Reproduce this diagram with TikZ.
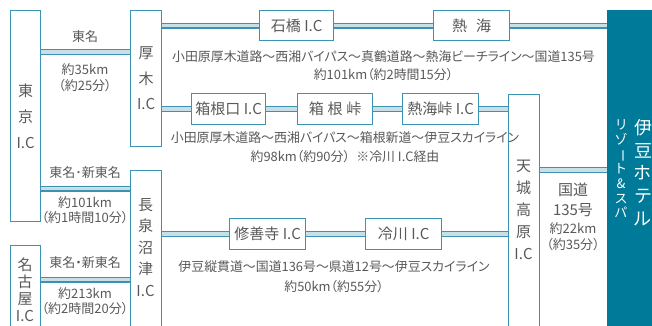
\documentclass[tikz,border=0pt]{standalone}
\usepackage{fontspec}
\setmainfont{Noto Sans CJK JP}[RawFeature=+palt]
\definecolor{boxline}{HTML}{3A93B1}
\definecolor{roadfill}{HTML}{C9DEE7}
\definecolor{hotelblue}{HTML}{007A99}
\definecolor{txt}{HTML}{595959}
\pgfdeclarelayer{background}
\pgfsetlayers{background,main}
\tikzset{
  icbox/.style={draw=boxline, line width=1.3pt, fill=white, inner sep=0pt, anchor=north west, text=txt, font=\fontsize{15}{18}\selectfont},
  vlab/.style={text=txt, align=center, inner sep=0pt},
  note/.style={text=txt, font=\fontsize{12.9}{15}\selectfont, inner sep=0pt},
  side/.style={text=txt, font=\fontsize{13}{16}\selectfont, inner sep=0pt},
  roadout/.style={draw=boxline, line width=6pt},
  roadin/.style={draw=roadfill, line width=3.6pt},
}
\newcommand{\road}[2]{%
  \begin{pgfonlayer}{background}
  \draw[roadout] #1 -- #2;
  \draw[roadin] #1 -- #2;
  \end{pgfonlayer}}
\begin{document}
\begin{tikzpicture}[x=1pt,y=-1pt]
\useasboundingbox (0,0) rectangle (652,325);
\begin{pgfonlayer}{background}
\fill[white] (0,0) rectangle (652,325);
\end{pgfonlayer}

% IC boxes
\node[icbox, minimum width=30pt, minimum height=211pt] (tokyo) at (10,10) {};
\node[icbox, minimum width=31pt, minimum height=136pt] (atsugi) at (130,10) {};
\node[icbox, minimum width=31pt, minimum height=170pt] (nagaizumi) at (130,170) {};
\node[icbox, minimum width=30pt, minimum height=95pt] (nagoya) at (10,245) {};
\node[icbox, minimum width=74pt, minimum height=30pt] (ishibashi) at (259,10) {石橋 I.C};
\node[icbox, minimum width=76pt, minimum height=30pt] (atami) at (433,10) {熱\hspace{0.6em}海};
\node[icbox, minimum width=74pt, minimum height=31pt] (hakoneguchi) at (191,93) {箱根口 I.C};
\node[icbox, minimum width=75pt, minimum height=31pt] (hakonetoge) at (297,93) {箱\hspace{0.25em}根\hspace{0.25em}峠};
\node[icbox, minimum width=76pt, minimum height=31pt] (atamitoge) at (402,93) {熱海峠 I.C};
\node[icbox, minimum width=31pt, minimum height=246pt] (amagi) at (508,94) {};
\node[icbox, minimum width=76pt, minimum height=31pt] (shuzenji) at (229,218) {修善寺 I.C};
\node[icbox, minimum width=76pt, minimum height=31pt] (hiekawa) at (365,218) {冷川 I.C};
\node[fill=hotelblue, inner sep=0pt, anchor=north west, minimum width=45pt, minimum height=320pt] (hotel) at (607,10) {};

% road levels
\coordinate (yA) at (0,52);
\coordinate (yB) at (0,188.5);
\coordinate (yC) at (0,279.5);
\coordinate (yD) at (0,170);

% roads
\road{(tokyo.east |- yA)}{(atsugi.west |- yA)}
\road{(tokyo.east |- yB)}{(nagaizumi.west |- yB)}
\road{(nagoya.east |- yC)}{(nagaizumi.west |- yC)}
\road{(atsugi.east |- ishibashi.west)}{(ishibashi.west)}
\road{(ishibashi.east)}{(atami.west)}
\road{(atami.east)}{(hotel.west |- atami.east)}
\road{(atsugi.east |- hakoneguchi.west)}{(hakoneguchi.west)}
\road{(hakoneguchi.east)}{(hakonetoge.west)}
\road{(hakonetoge.east)}{(atamitoge.west)}
\road{(atamitoge.east)}{(amagi.west |- atamitoge.east)}
\road{(nagaizumi.east |- shuzenji.west)}{(shuzenji.west)}
\road{(shuzenji.east)}{(hiekawa.west)}
\road{(hiekawa.east)}{(amagi.west |- hiekawa.east)}
\road{(amagi.east |- yD)}{(hotel.west |- yD)}

% vertical IC names
\node[vlab, font=\fontsize{15}{26}\selectfont] (tokyoT) at (tokyo.center) {東\\京\\I.C};
\node[vlab, font=\fontsize{15}{25.5}\selectfont] (atsugiT) at (atsugi.center) {厚\\木\\I.C};
\node[vlab, font=\fontsize{15}{21.5}\selectfont] (nagaizumiT) at (145.5,247.5) {長\\泉\\沼\\津\\I.C};
\node[vlab, font=\fontsize{15}{17}\selectfont] (nagoyaT) at (25,289.5) {名\\古\\屋\\I.C};
\node[vlab, font=\fontsize{15}{22}\selectfont] (amagiT) at (523.5,210) {天\\城\\高\\原\\I.C};

% hotel
\node[vlab, text=white, font=\fontsize{18}{22.8}\selectfont] (hotelA) at (643,172.5) {伊\\豆\\ホ\\テ\\ル};
\node[vlab, text=white, font=\fontsize{13}{14.7}\selectfont] (hotelB) at (621,169) {リ\\ゾ\\\rotatebox[origin=c]{-90}{ー}\\ト\\\&\\ス\\パ};

% side labels
\node[side] (l1a) at (85,37) {東名};
\node[side] (l1b) at (85,70) {約35km};
\node[side] (l1c) at (85,86) {（約25分）};
\node[side] (l2a) at (85,173) {東名･新東名};
\node[side] (l2b) at (85,203) {約101km};
\node[side] (l2c) at (85,218) {（約1時間10分）};
\node[side] (l3a) at (85,263) {東名・新東名};
\node[side] (l3b) at (85,294) {約213km};
\node[side] (l3c) at (85,309) {（約2時間20分）};
\node[side, font=\fontsize{15}{18}\selectfont] (r1) at (573,190) {国道};
\node[side, font=\fontsize{15}{18}\selectfont] (r2) at (573,210) {135号};
\node[side] (r3) at (573,229) {約22km};
\node[side] (r4) at (573,245) {（約35分）};

% route notes
\node[note] (n1a) at (383.5,57) {小田原厚木道路〜西湘バイパス〜真鶴道路〜熱海ビーチライン〜国道135号};
\node[note] (n1b) at (383.5,75) {約101km（約2時間15分）};
\node[note] (n2a) at (345,138) {小田原厚木道路〜西湘バイパス〜箱根新道〜伊豆スカイライン};
\node[note] (n2b) at (345,157) {約98km（約90分）\hspace{0.5em}※冷川 I.C経由};
\node[note] (n3a) at (334,267) {伊豆縦貫道〜国道136号〜県道12号〜伊豆スカイライン};
\node[note] (n3b) at (334,287) {約50km（約55分）};
\end{tikzpicture}
\end{document}
